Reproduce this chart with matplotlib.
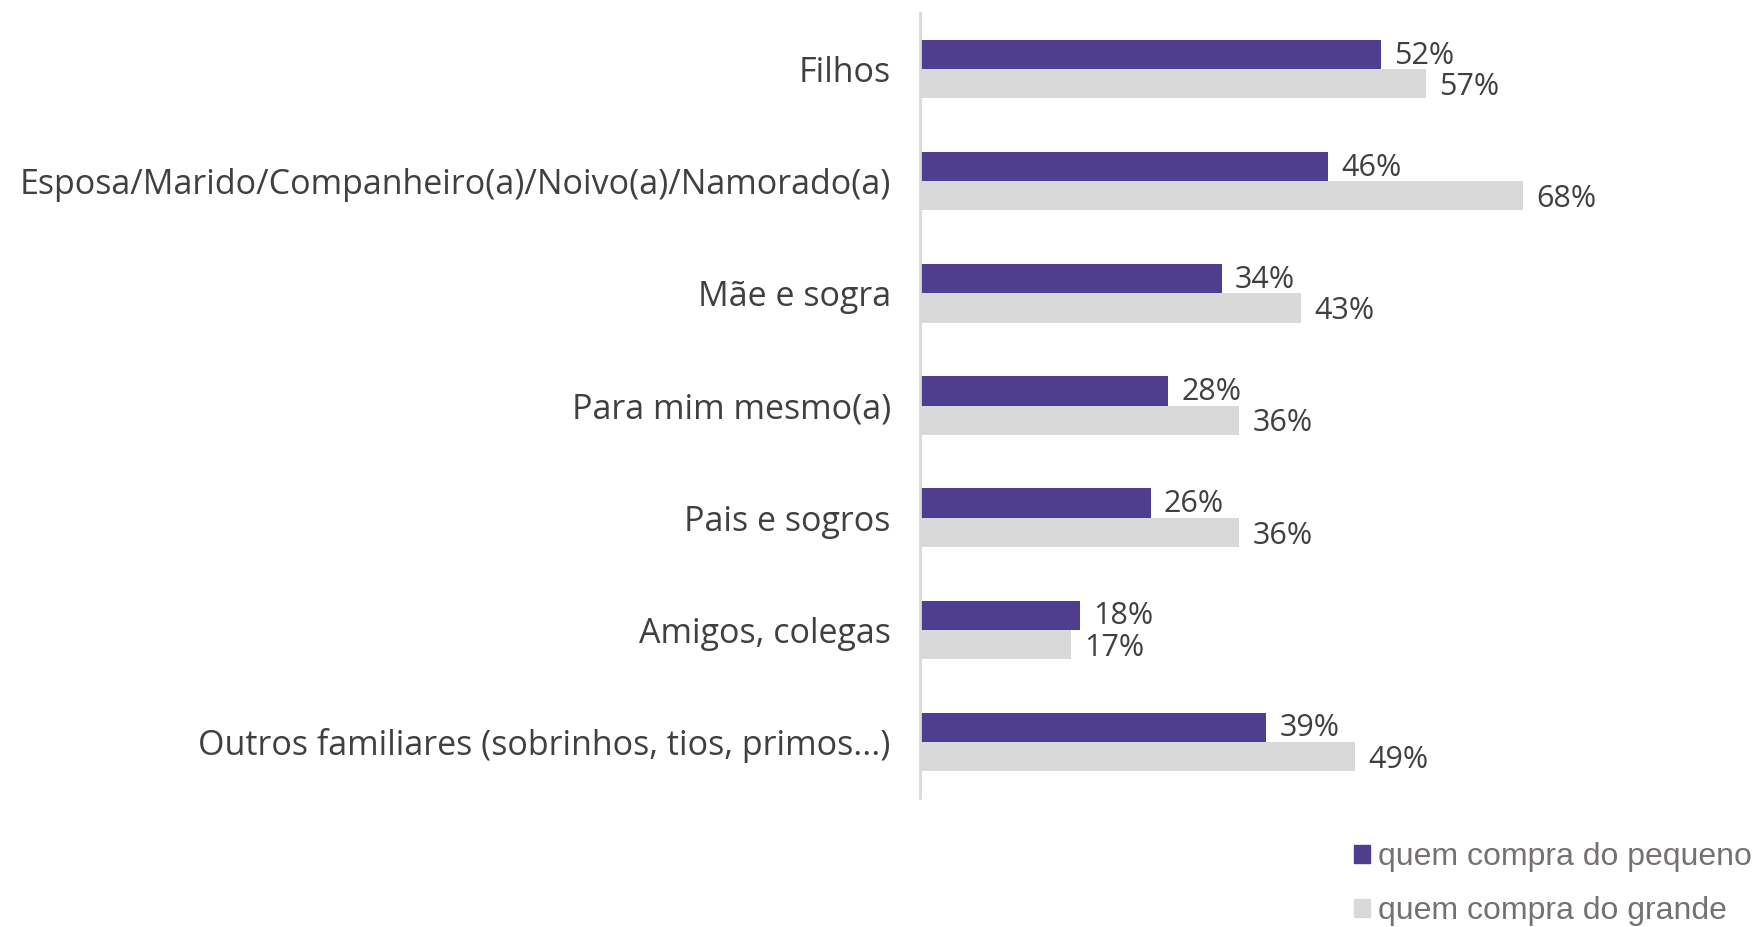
import matplotlib.pyplot as plt
from matplotlib.patches import Patch
import numpy as np

# categorias e valores (%)
categorias = ['Filhos',
              'Esposa/Marido/Companheiro(a)/Noivo(a)/Namorado(a)',
              'Mãe e sogra',
              'Para mim mesmo(a)',
              'Pais e sogros',
              'Amigos, colegas',
              'Outros familiares (sobrinhos, tios, primos...)']
pequeno = [52, 46, 34, 28, 26, 18, 39]
grande = [57, 68, 43, 36, 36, 17, 49]
series = ['quem compra do pequeno', 'quem compra do grande']

cor_roxo = '#4f3d8e'
cor_cinza = '#d9d9d9'
cor_texto = '#404040'

W, H = 1757, 927
fig = plt.figure(figsize=(W / 100, H / 100), dpi=100)
ax = fig.add_axes([920 / W, 1 - 798 / H, 94 * 8.87 / W, 785 / H])

y = np.arange(len(categorias))
h = 0.26
ax.barh(y - h / 2, pequeno, height=h, color=cor_roxo)
ax.barh(y + h / 2, grande, height=h, color=cor_cinza)

ax.set_xlim(0, 94)
ax.set_ylim(len(categorias) - 0.5, -0.5)

fonte = 'Open Sans'
for i in range(len(categorias)):
    ax.text(pequeno[i] + 1.5, y[i] - h / 2 + 0.01, f'{pequeno[i]}%', va='center', ha='left',
            fontsize=22, color=cor_texto, family=fonte)
    ax.text(grande[i] + 1.5, y[i] + h / 2 + 0.03, f'{grande[i]}%', va='center', ha='left',
            fontsize=22, color=cor_texto, family=fonte)

ax.set_yticks(y)
ax.set_yticklabels(categorias, fontsize=24.5, color=cor_texto, family=fonte)
ax.tick_params(axis='y', length=0, pad=21)
ax.set_xticks([])
for s in ['top', 'right', 'bottom']:
    ax.spines[s].set_visible(False)
ax.spines['left'].set_color('#d9d9d9')
ax.spines['left'].set_linewidth(2)

handles = [Patch(color=cor_roxo), Patch(color=cor_cinza)]
fig.legend(handles, series, loc='upper left', bbox_to_anchor=(1354 / W, 1 - 842 / H),
           frameon=False, handlelength=0.5, handleheight=0.5, handletextpad=0.25,
           labelspacing=0.76, borderpad=0, borderaxespad=0,
           prop={'family': 'Liberation Sans', 'size': 23}, labelcolor='#767171')

fig.savefig('out.png', dpi=100)
